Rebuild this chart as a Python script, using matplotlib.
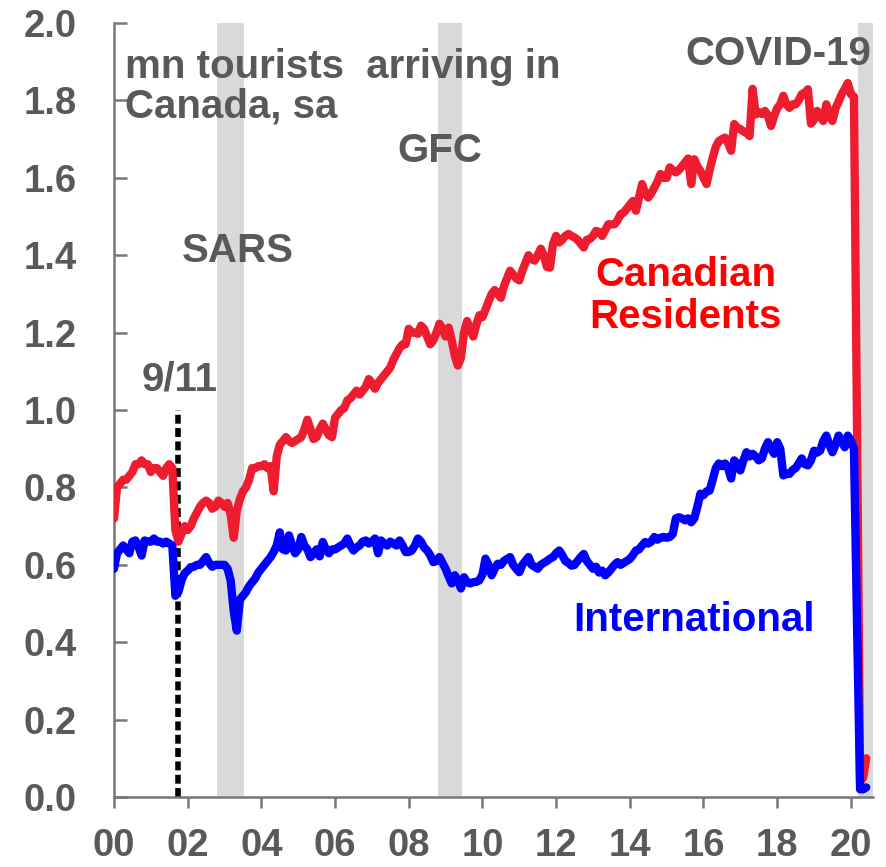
import numpy as np
import matplotlib
matplotlib.use("Agg")
import matplotlib.pyplot as plt

plt.rcParams['font.family'] = ['Liberation Sans', 'DejaVu Sans']
plt.rcParams['font.weight'] = 'bold'

# monthly, Jan 2000 - Jun 2020, mn tourists (sa)
canadian_residents = [
    0.72, 0.80, 0.81, 0.82, 0.82, 0.83, 0.84, 0.86, 0.86, 0.87, 0.86, 0.86,  # 2000
    0.84, 0.85, 0.85, 0.84, 0.83, 0.85, 0.86, 0.85, 0.69, 0.66, 0.68, 0.70,  # 2001
    0.69, 0.70, 0.72, 0.735, 0.75, 0.76, 0.766, 0.76, 0.745, 0.75, 0.766, 0.76,  # 2002
    0.75, 0.76, 0.73, 0.67, 0.74, 0.77, 0.79, 0.80, 0.82, 0.85, 0.85, 0.855,  # 2003
    0.855, 0.86, 0.85, 0.855, 0.79, 0.88, 0.91, 0.92, 0.93, 0.92, 0.915, 0.92,  # 2004
    0.925, 0.93, 0.95, 0.975, 0.95, 0.925, 0.93, 0.95, 0.965, 0.95, 0.935, 0.93,  # 2005
    0.98, 0.99, 1.00, 1.005, 1.025, 1.03, 1.04, 1.05, 1.04, 1.05, 1.06, 1.08,  # 2006
    1.07, 1.055, 1.07, 1.08, 1.09, 1.10, 1.11, 1.13, 1.145, 1.16, 1.17, 1.17,  # 2007
    1.21, 1.20, 1.20, 1.197, 1.218, 1.21, 1.19, 1.17, 1.18, 1.20, 1.223, 1.21,  # 2008
    1.19, 1.213, 1.18, 1.14, 1.115, 1.135, 1.20, 1.23, 1.21, 1.19, 1.22, 1.245,  # 2009
    1.24, 1.26, 1.28, 1.30, 1.31, 1.30, 1.29, 1.32, 1.34, 1.36, 1.35, 1.34,  # 2010
    1.335, 1.36, 1.38, 1.40, 1.39, 1.386, 1.40, 1.417, 1.40, 1.37, 1.368, 1.43,  # 2011
    1.45, 1.433, 1.44, 1.45, 1.455, 1.45, 1.446, 1.44, 1.43, 1.42, 1.44, 1.442,  # 2012
    1.45, 1.463, 1.46, 1.45, 1.465, 1.48, 1.48, 1.48, 1.49, 1.506, 1.51, 1.52,  # 2013
    1.53, 1.54, 1.515, 1.55, 1.584, 1.56, 1.549, 1.56, 1.575, 1.59, 1.61, 1.60,  # 2014
    1.60, 1.627, 1.62, 1.614, 1.62, 1.63, 1.64, 1.65, 1.584, 1.648, 1.63, 1.618,  # 2015
    1.60, 1.584, 1.62, 1.652, 1.68, 1.695, 1.70, 1.704, 1.69, 1.67, 1.739, 1.73,  # 2016
    1.726, 1.72, 1.717, 1.708, 1.83, 1.764, 1.77, 1.765, 1.773, 1.76, 1.734, 1.76,  # 2017
    1.78, 1.79, 1.812, 1.79, 1.781, 1.79, 1.79, 1.80, 1.816, 1.82, 1.829, 1.74,  # 2018
    1.75, 1.773, 1.76, 1.747, 1.79, 1.76, 1.747, 1.78, 1.797, 1.816, 1.83, 1.845,  # 2019
    1.816, 1.81, 0.95, 0.04, 0.05, 0.10,  # 2020
]

international = [
    0.59, 0.63, 0.64, 0.65, 0.64, 0.63, 0.66, 0.663, 0.646, 0.624, 0.663, 0.66,  # 2000
    0.66, 0.668, 0.66, 0.66, 0.655, 0.66, 0.655, 0.65, 0.52, 0.53, 0.56, 0.578,  # 2001
    0.585, 0.594, 0.595, 0.60, 0.60, 0.61, 0.62, 0.605, 0.595, 0.60, 0.60, 0.60,  # 2002
    0.60, 0.59, 0.56, 0.48, 0.43, 0.51, 0.52, 0.53, 0.545, 0.555, 0.565, 0.58,  # 2003
    0.59, 0.60, 0.61, 0.62, 0.633, 0.65, 0.684, 0.64, 0.637, 0.676, 0.65, 0.63,  # 2004
    0.64, 0.672, 0.65, 0.64, 0.62, 0.63, 0.64, 0.622, 0.659, 0.64, 0.63, 0.64,  # 2005
    0.64, 0.645, 0.65, 0.655, 0.668, 0.65, 0.637, 0.645, 0.65, 0.66, 0.663, 0.655,  # 2006
    0.66, 0.668, 0.63, 0.663, 0.655, 0.65, 0.66, 0.655, 0.65, 0.663, 0.65, 0.633,  # 2007
    0.633, 0.637, 0.65, 0.668, 0.66, 0.645, 0.637, 0.625, 0.607, 0.61, 0.62, 0.605,  # 2008
    0.59, 0.57, 0.552, 0.573, 0.56, 0.539, 0.568, 0.555, 0.552, 0.555, 0.556, 0.56,  # 2009
    0.575, 0.616, 0.60, 0.573, 0.59, 0.603, 0.60, 0.61, 0.615, 0.62, 0.60, 0.59,  # 2010
    0.581, 0.60, 0.61, 0.62, 0.60, 0.595, 0.59, 0.60, 0.605, 0.61, 0.616, 0.62,  # 2011
    0.63, 0.637, 0.625, 0.61, 0.605, 0.598, 0.60, 0.61, 0.62, 0.628, 0.61, 0.60,  # 2012
    0.59, 0.595, 0.58, 0.585, 0.573, 0.58, 0.59, 0.60, 0.607, 0.60, 0.605, 0.61,  # 2013
    0.615, 0.625, 0.637, 0.64, 0.65, 0.659, 0.655, 0.66, 0.672, 0.665, 0.67, 0.672,  # 2014
    0.67, 0.672, 0.68, 0.72, 0.723, 0.72, 0.715, 0.72, 0.71, 0.72, 0.75, 0.784,  # 2015
    0.78, 0.79, 0.792, 0.82, 0.85, 0.862, 0.855, 0.862, 0.85, 0.823, 0.87, 0.86,  # 2016
    0.844, 0.87, 0.891, 0.88, 0.887, 0.88, 0.87, 0.875, 0.90, 0.917, 0.90, 0.887,  # 2017
    0.917, 0.90, 0.831, 0.835, 0.835, 0.845, 0.85, 0.862, 0.875, 0.86, 0.857, 0.87,  # 2018
    0.895, 0.89, 0.895, 0.92, 0.934, 0.91, 0.891, 0.91, 0.934, 0.92, 0.904, 0.934,  # 2019
    0.92, 0.90, 0.45, 0.02, 0.02, 0.025,  # 2020
]

# shaded episodes (fractional years)
shocks = ['SARS', 'GFC', 'COVID-19']
shock_start = [2002.8, 2008.8, 2020.2]
shock_end = [2003.53, 2009.45, 2020.6]
sept11 = 2001.74

year_ticks = list(range(2000, 2021, 2))
year_labels = ['%02d' % (y % 100) for y in year_ticks]

grey = '#595959'
months = 2000 + np.arange(len(canadian_residents)) / 12

fig = plt.figure(figsize=(8.87, 8.67), dpi=100)
ax = fig.add_axes([0.1285, 0.0807, 0.8557, 0.8927])

for s, e in zip(shock_start, shock_end):
    ax.axvspan(s, e, color='#d9d9d9', lw=0, zorder=0)

ax.plot([sept11, sept11], [0, 1.0], color='black', lw=4, ls=(0, (1.6, 0.8)), zorder=1)

ax.plot(months, canadian_residents, color='#ED1C2E', lw=6, zorder=3,
        solid_joinstyle='round', solid_capstyle='round')
ax.plot(months, international, color='#0000FF', lw=6, zorder=4,
        solid_joinstyle='round', solid_capstyle='round')

ax.set_xlim(2000, 2020.6)
ax.set_ylim(0, 2.0)
ax.set_yticks(np.arange(0, 2.01, 0.2))
ax.set_yticklabels(['%.1f' % v for v in np.arange(0, 2.01, 0.2)])
ax.set_xticks(year_ticks)
ax.set_xticklabels(year_labels)

for side in ['top', 'right']:
    ax.spines[side].set_visible(False)
for side in ['left', 'bottom']:
    ax.spines[side].set_color('#767676')
    ax.spines[side].set_linewidth(1.8)

ax.tick_params(axis='y', direction='in', length=9, width=1.8, color='#767676',
               labelsize=27.5, labelcolor=grey, pad=27)
ax.tick_params(axis='x', direction='out', length=8, width=1.8, color='#767676',
               labelsize=27.5, labelcolor=grey, pad=14.5)
for lab in ax.get_xticklabels() + ax.get_yticklabels():
    lab.set_fontweight('bold')

fs = 29
ax.text(2000.3, 1.935, 'mn tourists  arriving in\nCanada, sa', color=grey, fontsize=fs,
        fontweight='bold', ha='left', va='top', linespacing=1.05)
ax.text(2003.37, 1.41, 'SARS', color=grey, fontsize=fs, fontweight='bold', ha='center', va='center')
ax.text(2008.85, 1.67, 'GFC', color=grey, fontsize=fs, fontweight='bold', ha='center', va='center')
ax.text(2001.79, 1.08, '9/11', color=grey, fontsize=fs, fontweight='bold', ha='center', va='center')
ax.text(2018.02, 1.92, 'COVID-19', color=grey, fontsize=fs, fontweight='bold', ha='center', va='center')
ax.text(2015.52, 1.295, 'Canadian\nResidents', color='#FF0000', fontsize=fs, fontweight='bold',
        ha='center', va='center', linespacing=1.15)
ax.text(2015.74, 0.457, 'International', color='#0000FF', fontsize=fs, fontweight='bold',
        ha='center', va='center')

fig.savefig('out.png', dpi=100)
